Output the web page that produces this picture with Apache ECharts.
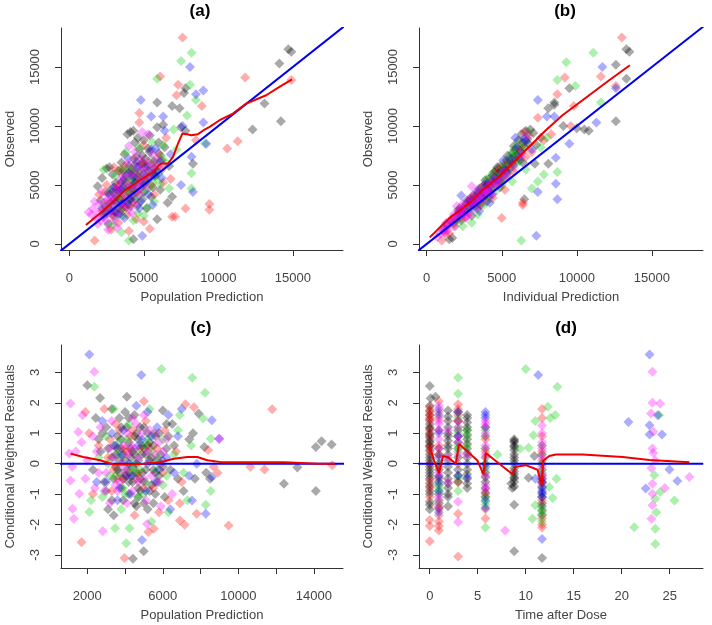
<!DOCTYPE html>
<html>
<head>
<meta charset="utf-8">
<script src="https://cdn.jsdelivr.net/npm/echarts@6/dist/echarts.min.js"></script>
<style>
  html, body { margin: 0; padding: 0; background: #fff; }
  #chart { width: 712px; height: 625px; }
</style>
</head>
<body>
<div id="chart"></div>
<script>
// (a) observed vs population prediction, one array per colour
var obsPredBlack = [[1900,4900],[2200,5600],[2500,6400],[2700,6500],[2900,5900],[3100,5200],[3300,6200],[3500,6900],[3700,7600],[3900,9300],[4100,9500],[4300,9600],[4400,8600],[4700,8000],[5000,8800],[5400,9200],[5900,9900],[6300,10100],[6900,11700],[7400,11500],[5900,12000],[7800,13200],[7700,12800],[6400,8200],[6200,7100],[5700,6400],[5300,5600],[4900,4900],[4500,4400],[4100,3800],[3800,3100],[3400,2600],[3000,2300],[2600,1700],[2300,2500],[2800,3500],[3500,4600],[4200,5400],[4700,6200],[5100,7200],[5600,4800],[6600,3500],[5900,2100],[4300,400],[6900,4000],[8300,6800],[7500,9900],[7800,9600],[6700,6600],[3200,4000],[4000,4500],[4600,3300],[5200,3000],[12300,9700],[13100,11900],[14200,10400],[14100,15300],[14700,16500],[14900,16300],
    [2400,3200],[2600,4300],[2800,2800],[3000,3800],[3200,4600],[3300,3100],[3500,5200],[3600,3500],[3700,4100],[3800,5800],[4000,6600],[4100,3200],[4200,4700],[4300,6100],[4400,5200],[4500,7400],[4600,5700],[4800,6800],[4900,3800],[5000,4400],[5100,6500],[5200,5300],[5400,7800],[5500,4000],[5700,7000],[5800,5800],[6000,7700],[6100,4600],[3100,2700],[2100,3700],
    [3400,3800],[3900,4800],[4400,6700],[4800,5300],[5300,6200],[3600,6200],[4200,4100],[2900,4400],
    [3300,4400],[3700,5500],[4100,6200],[4500,5600],[4900,7500],[5300,8100],[5000,6800],[4400,3800],[3900,3400],[3500,2900],[2700,3000],[3000,4800],[5600,6000],[6000,8600],[4600,9000]];
var obsPredRed = [[7600,17500],[6100,14200],[7300,13500],[7200,12600],[8900,11700],[11800,14100],[4700,11100],[4700,10300],[10600,8100],[11300,8700],[14900,13900],[9400,2900],[9400,3400],[7800,3000],[6900,2300],[7100,2300],[1700,300],[2800,1200],[3300,1800],[4000,1100],[5400,1300],[5000,1900],[3000,6500],[2500,5000],[3500,4000],[4200,3500],[4800,5800],[5500,6800],[6100,7500],[6500,9000],[5000,8400],[3800,5200],[2200,2800],[2900,2500],[6800,5500],[5700,4200],[4500,2100],[8500,8800],[2000,4200],[3400,6200],[4300,7200],[3900,2500],[6300,5200],
    [2600,3500],[3100,3700],[3600,3100],[3900,4400],[4200,6000],[4600,4400],[4900,6900],[5200,5700],[5500,5000],[5900,6500],[3300,5000],[2400,4400],[4400,4800],[6200,6300],[3700,6600]];
var obsPredGreen = [[8200,16200],[7500,15500],[5900,14000],[8100,13500],[8500,12200],[7900,10900],[8200,6000],[8200,4700],[4000,300],[3500,1000],[2900,1600],[4600,2600],[5000,2400],[5700,3600],[2300,6300],[3100,5800],[3800,7800],[4700,8200],[5500,7200],[4300,4300],[4900,5400],[6000,6000],[6700,4700],[3200,3200],[2600,2900],[5200,3100],[6300,8400],[7000,9700],[9100,8500],[4200,5700],[3600,2400],[5400,4800],[2700,4400],[3900,6400],[4500,5000],[5800,5600],[6500,6900],[3300,3900],[7200,8000],
    [2600,3400],[3000,4300],[3400,2900],[3700,5000],[4000,3600],[4100,5300],[4400,6300],[4600,4000],[4800,6000],[5100,4500],[5300,6000],[5600,5200],[5900,6900],[6200,7400],[3500,6300],[2400,2400],[3800,4500],[4300,2000],[5600,8600],[6100,5100]];
var obsPredBlue = [[8100,15000],[9000,13000],[8500,12700],[4800,12200],[5500,10800],[6300,10800],[9000,10300],[7600,10000],[9200,8500],[8200,7400],[7500,5000],[8300,4400],[4900,700],[2700,4200],[3100,3500],[3400,4600],[4000,6000],[4500,7000],[5300,6600],[5800,8100],[6400,9600],[4100,3800],[5000,5100],[6200,5600],[3700,2200],[2200,3000],[5600,3300],[6800,7600],[3000,2800],[4300,5000],[5900,6200],[4800,3600],[3600,5400],
    [2900,4700],[3300,2500],[3600,4800],[3900,3600],[4300,5700],[4600,6500],[5000,5900],[5300,4200],[5700,5800],[6100,7000],[4000,7200],[3500,3400],[4700,3000],[5500,8000],[2500,2600]];
var obsPredMagenta = [[1700,3600],[1300,2700],[1500,2500],[2000,2700],[2300,2300],[1900,1700],[2600,1200],[3200,1400],[2400,3600],[2800,4100],[3100,4600],[3400,3300],[3800,3900],[4100,4900],[4500,5900],[4800,7200],[5100,6200],[5400,5600],[4600,4700],[4000,8300],[5300,9300],[4900,9500],[3600,5800],[2900,3000],[2000,3400],[3000,2000],[4400,3400],[5700,6700],[6300,6600],[4200,2600],[1800,2200],[2500,2000],[3300,4800],[3900,6800],[4700,4200],[5000,5600],[5600,7600],
    [2200,4400],[2500,3100],[2700,2600],[2900,3600],[3100,4100],[3300,2700],[3500,4400],[3700,3300],[3900,5000],[4100,5800],[4300,4200],[4500,6500],[4700,5300],[4900,6400],[5200,4800],[5300,7000],[5500,6200],[5900,7200],[3400,5400],[2600,3800],[1600,3000],[2100,2000],[4000,3000],[4400,7800],[4800,4900]];
var obsPredSmooth = [[1116,1607],[2053,2594],[2946,3581],[3727,4568],[4509,5189],[5290,5837],[5669,6119],[6026,6683],[6183,6824],[6629,6824],[6964,7388],[7299,8516],[7589,9362],[7901,9306],[8191,9221],[8638,9306],[9017,9644],[9419,9926],[10089,10490],[10981,11054],[11874,11900],[13213,12605],[14106,13310],[14954,13959]];

// (b) observed vs individual prediction
var obsIpredBlack = [[1500,400],[1700,500],[1200,1300],[1600,1900],[2000,2400],[2300,2000],[2500,3100],[2700,2800],[2900,3800],[3100,3300],[3300,4100],[3500,3600],[3700,4800],[3900,4200],[4100,5200],[4300,4700],[4500,6100],[4700,5400],[4900,6600],[5100,5800],[5300,7100],[5500,6300],[5700,7700],[5900,8000],[6100,8800],[6300,9300],[6600,9600],[6900,9700],[7100,9400],[7300,8400],[7600,9000],[6400,6900],[7200,6800],[6500,3800],[8100,6800],[8100,11500],[8500,12000],[8500,11800],[9500,13200],[9100,10000],[10000,9800],[10500,9700],[10800,9600],[12600,10400],[12600,15200],[13300,16500],[13500,16300],[13300,14000],[4000,3600],[3000,2400],[5800,6700],[2200,3000],[4400,5300],[6800,8500],
    [1300,1700],[1800,1800],[2100,2900],[2400,2600],[2600,3400],[2800,3200],[3000,3700],[3200,3800],[3400,4300],[3600,4200],[3800,4600],[4000,5000],[4200,4900],[4400,5800],[4600,5500],[4800,6000],[5000,6200],[5200,6500],[5400,6700],[5600,7000],[5800,7400],[6000,7500],[6200,7900],[2000,2100],[3300,3500],[3900,5400],[4700,6500],[5300,6000],[6400,8600],[6700,8900],
    [2300,2700],[2700,3700],[3100,4100],[3500,4700],[3800,3900],[4200,5600],[4600,6200],[5000,5500],[5400,7500],[5800,8300],[6200,7100],[6500,8200],[4900,4800],[3600,3300],[2900,3300]];
var obsIpredRed = [[13000,17500],[9200,14100],[11600,14200],[12600,13400],[8700,12700],[9800,11700],[7400,10700],[9600,10000],[6400,3300],[6400,3500],[5000,2200],[1000,300],[1500,900],[1900,1500],[2600,2300],[3000,3900],[3400,3000],[3800,5000],[4200,4400],[4600,5900],[5000,5200],[5400,7000],[5800,6100],[6200,8000],[6600,7400],[6800,9200],[7000,7800],[2200,2600],[3600,4400],[4800,6300],[5200,4600],[2800,3300],[8300,9300],[7800,8800],[4400,3900],
    [1200,900],[1700,1900],[2300,2200],[2700,3400],[3100,3600],[3500,3400],[3900,4500],[4300,5100],[4700,5200],[5100,6600],[5500,6500],[5900,7200],[6300,8300],[6500,9500],[4100,4000]];
var obsIpredGreen = [[11100,16200],[9300,15400],[8700,13900],[9900,13400],[11600,12000],[8000,9000],[7800,5900],[7000,4700],[7400,5300],[8700,6100],[6300,300],[1800,1700],[2400,1500],[3000,1800],[3400,2500],[3800,3300],[4200,3900],[4600,4500],[5000,5000],[5400,6000],[5800,8000],[6100,8500],[6400,8300],[5600,7500],[4800,5800],[4400,6000],[3200,3700],[2700,3300],[5200,6700],[6000,7100],[6600,6300],[7600,8200],[4000,5500],[3600,4600],[6800,9500],[5700,5300],
    [2000,2000],[2600,2900],[2900,3000],[3300,3300],[3500,4200],[3700,4000],[3900,4700],[4100,4300],[4300,5400],[4500,4800],[4700,5600],[4900,5300],[5100,6400],[5300,5600],[5500,7200],[5700,6600],[5900,7600],[6200,7000],[4400,5000],[3100,3100]];
var obsIpredBlue = [[11700,15000],[12600,13200],[7400,12200],[8000,10800],[8500,10800],[11300,10300],[9500,8500],[8600,7300],[8600,5100],[7400,4400],[8700,3800],[7300,700],[2300,4100],[2800,3600],[3200,3200],[3600,4000],[4100,4600],[4500,5200],[4900,5900],[5300,6200],[5700,6800],[6100,7300],[6500,8900],[7000,8000],[5100,7100],[4200,3500],[3500,2800],[5900,9000],[3900,5100],
    [2500,2900],[2900,3500],[3300,3900],[3700,4400],[4100,5000],[4500,5600],[4800,5400],[5200,6300],[5600,7200],[6000,8200],[6300,7700],[6600,8700],[3400,4500],[2100,2700],[4300,4200]];
var obsIpredMagenta = [[700,600],[900,900],[1100,1100],[1300,1500],[1500,1700],[1700,2200],[1900,2000],[2100,2500],[2300,2900],[2500,2600],[2700,3000],[2900,2700],[3100,3500],[3300,3200],[3500,3800],[3700,3600],[2000,3200],[3200,4300],[3900,4600],[4300,5000],[4700,5100],[5000,5600],[5400,5700],[4100,4400],[4600,4900],[2600,2200],[1400,1200],[3000,4900],[3800,4300],[5800,6500],[6300,7400],[6700,9300],[4400,4200],[2400,3400],[1800,1500],
    [1000,1300],[1200,1000],[1600,2000],[1800,2500],[2000,2300],[2200,2800],[2400,2500],[2500,3300],[2800,3500],[3000,3300],[3200,3700],[3400,4000],[3600,3900],[3700,4500],[4000,4300],[4200,5200],[4500,5500],[4800,5400],[5100,6100],[5300,5900],[2900,3900],[1300,1800],[2700,2400],[3500,4600],[4100,4800]];
var obsIpredSmooth = [[200,564],[1489,2171],[2822,3440],[3711,4568],[4822,5696],[5711,6824],[6377,7670],[7266,8798],[7933,9644],[9044,10913],[9933,11759],[10822,12605],[12154,13874],[13532,15143]];

// (c) CWRES vs population prediction
var cwresPredBlack = [[2000,2.58],[2676,2.16],[4098,2.2],[2450,1.5],[3000,1.2],[3300,1.8],[3600,0.9],[3800,0.5],[4000,1.7],[4300,0.2],[4500,1.6],[4700,0.8],[4900,0.3],[5100,-0.2],[5300,0.1],[3500,-0.1],[3700,-0.3],[4200,-0.6],[4600,-1.4],[4800,-0.9],[5000,-1.3],[5200,-1.5],[5600,-1.0],[5800,-0.4],[6000,1.75],[6200,0.5],[6500,1.3],[6800,-0.5],[7100,-0.9],[7400,0.8],[7600,1.0],[7700,-0.5],[7900,1.65],[8200,0.55],[8300,-0.3],[8500,-0.5],[3100,-1.5],[3400,-1.7],[2700,0.4],[2300,-0.2],[2900,-0.6],[4418,-3.13],[4987,-2.88],[12419,-0.66],[14109,-0.9],[14109,0.55],[14410,0.74],[14944,0.63],[13130,-0.13],[4400,-0.1],[5500,0.6],[6400,-0.2],[3900,-1.2],
    [3400,0.6],[3600,-0.2],[3800,0.8],[3900,-0.5],[4000,0.1],[4100,1.2],[4200,-1.0],[4300,0.5],[4400,-0.6],[4500,0.9],[4600,0.0],[4700,-0.8],[4800,1.2],[4900,-0.3],[5000,0.5],[5200,1.0],[5300,-0.9],[5400,0.2],[5600,0.9],[5700,-0.6],[5900,0.3],[6100,-1.1],[6300,0.9],[3100,0.5],[2800,1.0],[3300,-1.2],[4500,-1.3],[5500,-1.3],[6600,0.6],[3700,1.5],
    [3500,0.3],[3700,0.1],[3900,0.3],[4100,-0.2],[4300,-0.4],[4500,0.3],[4700,0.1],[4900,0.6],[5100,0.3],[5300,0.7],[5500,-0.2],[5700,0.1],[4200,0.7],[4600,-0.3],[3800,-0.8],[5000,-0.6],[3300,0.2],[5800,1.0],[2600,0.8],[3000,-0.9],
    [3600,0.5],[4000,-0.4],[4400,0.4],[4800,-0.5],[5200,0.6],[5600,-0.3],[3400,-0.5],[3800,1.2],[4600,1.0],[5000,1.2],[5400,-0.7],[4200,1.5],[4700,-1.1],[6000,-0.1],[6200,1.3]];
var cwresPredRed = [[11797,1.79],[10641,-0.11],[11388,-0.19],[14979,-0.05],[9485,-2.03],[7796,-1.65],[7156,-2.01],[6907,-1.87],[3973,-3.1],[1698,-2.58],[5236,-2.25],[5520,-2.14],[5000,2.05],[7200,1.95],[7650,1.85],[2900,1.8],[1900,1.7],[2600,0.6],[3100,0.2],[3500,1.3],[3900,-0.5],[4300,0.9],[4700,-0.3],[5100,1.4],[5500,-0.8],[5900,0.0],[6300,-1.2],[6700,0.4],[7000,-0.6],[2300,-1.0],[3300,-0.9],[4500,-1.7],[5800,-1.6],[8700,-0.1],[8900,-0.3],[3700,1.1],[4100,0.4],[6100,1.1],[2100,1.0],[8400,0.45],[6900,-1.3],
    [3200,0.8],[3600,-0.5],[4000,0.5],[4200,-0.3],[4400,1.1],[4800,0.5],[5000,-0.8],[5300,0.5],[5700,0.5],[6000,-0.3],[3400,-0.2],[4600,-0.5]];
var cwresPredGreen = [[2373,2.53],[5929,3.11],[7565,2.82],[8240,2.33],[4062,-2.62],[2107,-1.59],[3476,-2.12],[4240,-2.12],[8276,-1.35],[8543,0.82],[8134,1.48],[8540,-0.9],[3400,1.8],[2800,-1.1],[3000,0.9],[3600,0.3],[3900,-0.8],[4200,1.3],[4500,-0.3],[4700,-1.1],[5000,0.6],[5300,1.8],[5400,-1.9],[5700,0.2],[6000,-0.7],[6300,-1.6],[6600,0.3],[6800,1.1],[7100,-0.3],[7300,-1.2],[7500,0.6],[2600,0.2],[3200,-0.4],[4400,0.0],[5500,1.0],[5100,-0.6],[2200,-1.2],[6900,1.6],
    [3100,0.0],[3500,-0.4],[3700,0.7],[4000,-1.0],[4300,-0.2],[4600,0.4],[4800,-0.2],[5000,-1.0],[5200,0.8],[5400,0.4],[5700,-0.2],[6000,0.8],[6200,-0.4],[4100,0.8],[3800,-1.5]];
var cwresPredBlue = [[2107,3.59],[4862,2.91],[8596,-0.44],[8276,-1.65],[7547,-1.21],[8596,1.43],[4898,-2.51],[6300,1.6],[5200,1.7],[2800,1.4],[3300,1.0],[3800,0.3],[4100,-0.4],[4600,1.9],[4900,0.8],[5200,0.0],[5600,-0.6],[6000,0.1],[6400,-1.5],[6800,0.9],[7000,1.8],[7400,-0.4],[7800,0.0],[2500,-0.6],[3000,-0.6],[3600,-1.2],[4300,-1.0],[5700,1.2],[6600,-0.3],[8987,0.82],
    [3500,0.6],[3900,1.1],[4400,-0.4],[4700,0.6],[5100,-0.9],[5400,0.9],[5800,-0.2],[6200,0.2],[4200,0.0],[3700,-0.8]];
var cwresPredMagenta = [[2373,3.02],[1111,1.98],[1040,0.33],[1520,1.04],[1751,1.59],[1573,-0.99],[1111,-0.55],[1218,-1.48],[1289,-1.81],[2818,-2.22],[5165,-1.98],[1200,-0.1],[1700,0.7],[2000,0.1],[2300,0.9],[2600,-0.3],[2900,-0.9],[3200,0.5],[3500,-0.7],[3800,0.0],[4100,1.0],[4400,-0.9],[4700,0.2],[5000,-0.5],[5300,1.1],[5600,0.3],[5900,-1.4],[6200,0.8],[6500,-1.0],[3300,1.4],[4600,1.3],[5100,-1.2],[1900,-0.5],[2500,0.4],[3700,-0.6],[4300,0.6],[5800,0.7],[1400,0.4],[8987,0.82],
    [2700,1.2],[3000,-0.3],[3400,0.2],[3600,-0.9],[3900,0.6],[4000,-0.2],[4200,0.3],[4500,0.5],[4700,-0.6],[4900,1.0],[5200,0.4],[5400,-0.4],[5600,1.0],[5800,-0.6],[6000,0.4],[4100,-1.3],[3200,-1.3],[2400,-0.8],[5000,1.6],[4400,1.5]];
var cwresPredSmooth = [[1111,0.33],[1787,0.22],[2676,0.11],[3387,-0.03],[4098,-0.03],[4987,0.0],[5876,0.05],[6587,0.16],[7298,0.22],[7832,0.22],[8365,0.11],[9076,0.05],[9788,0.05],[12454,0.05],[14232,0.0],[15121,0.0]];

// (d) CWRES vs time after dose
var cwresTimeBlack = [[0,2.55],[0.1,2.15],[0,1.45],[0,1.3],[0,1.15],[0,1.0],[0,0.85],[0,0.7],[0,0.55],[0,0.3],[0,0.1],[0,-0.2],[0,-0.4],[0,-0.65],[0,-1.25],[0,-1.5],[0.6,2.2],[0.95,1.1],[0.95,0.3],[0.95,-0.4],[0.95,-1.45],[0.95,-1.0],[1.9,1.75],[1.9,1.55],[1.9,1.2],[1.9,1.0],[1.9,0.75],[1.9,0.5],[1.9,0.3],[1.9,-0.1],[1.9,-0.5],[1.9,-0.8],[1.9,-1.1],[1.9,-1.4],[2.95,1.7],[2.95,1.4],[2.95,0.9],[2.95,0.5],[2.95,-0.2],[2.95,-0.6],[3.9,1.6],[3.9,1.35],[3.9,1.1],[3.9,0.8],[3.9,0.5],[3.9,0.2],[3.9,-0.2],[3.9,-0.5],[3.9,-0.8],[5.8,0.9],[5.8,0.2],[5.8,-0.3],[5.8,-0.6],[5.8,-0.95],[8.8,0.8],[8.8,0.7],[8.8,0.6],[8.8,0.45],[8.8,0.3],[8.8,0.1],[8.8,-0.15],[8.8,-0.35],[8.8,-0.5],[8.8,-0.6],[8.8,-0.75],[8.5,-0.65],[8.6,-0.8],[8.8,-1.35],[8.8,-2.88],[10.3,-0.46],[10.9,0.25],[11.7,0.6],[11.7,0.3],[11.7,-0.2],[11.7,-0.8],[11.7,-1.0],[11.7,-1.3],[11.7,-1.55],[11.7,-1.7],[11.7,-3.1],
    [0,1.9],[0,1.75],[0,1.6],[0,1.2],[0,0.95],[0,0.75],[0,0.6],[0,0.45],[0,0.2],[0,0.0],[0,-0.1],[0,-0.3],[0,-0.5],[0,-0.75],[0,-0.9],[0,-1.0],[0,-1.35],
    [0.95,0.5],[0.95,0.0],[0.95,-0.2],[0.95,-0.7],[1.9,1.4],[1.9,0.9],[1.9,0.6],[1.9,0.1],[1.9,-0.3],[1.9,-0.65],[1.9,-1.0],
    [2.95,1.1],[2.95,0.7],[2.95,0.2],[2.95,-0.4],[3.9,1.5],[3.9,1.2],[3.9,0.95],[3.9,0.65],[3.9,0.35],[3.9,0.0],[3.9,-0.35],[3.9,-0.65],
    [5.8,0.5],[5.8,0.0],[5.8,-0.45],[5.8,-0.8],[5.8,-1.1],[8.8,0.75],[8.8,0.55],[8.8,0.2],[8.8,0.0],[8.8,-0.25],[8.8,-0.45],
    [11.7,0.0],[11.7,-0.4],[11.7,-0.6],[11.7,-1.1],[11.7,-1.4]];
var cwresTimeRed = [[0,1.85],[0,1.6],[0,1.4],[0,0.4],[0,0.0],[0,-0.8],[0,-0.55],[0,-1.85],[0,-2.05],[0,-2.55],[0.95,2.05],[0.95,1.7],[0.95,0.6],[0.95,-0.1],[0.95,-1.7],[0.95,-1.9],[0.95,-2.05],[0.95,-2.2],[2.95,1.95],[2.95,1.8],[2.95,1.6],[2.95,0.0],[2.95,-1.65],[2.95,-3.05],[5.8,1.2],[5.8,0.4],[5.8,-1.8],[11.7,1.8],[11.7,0.9],[11.7,0.4],[11.7,-0.5],[11.7,-2.0],[11.7,-2.1],
    [0,1.7],[0,1.5],[0,1.1],[0,0.9],[0,0.6],[0,-1.1],[0.95,1.5],[0.95,0.3],[0.95,-0.5],[0.95,-1.3],[0.95,-1.5],[2.95,1.4],[2.95,-0.6],
    [5.8,0.8],[5.8,-1.0],[5.8,-1.5],[11.7,1.5],[11.7,0.1],[11.7,-0.65],[11.7,-1.2],[11.7,-1.8]];
var cwresTimeGreen = [[2.95,2.82],[2.95,2.3],[2.95,1.5],[2.95,1.0],[2.95,0.4],[2.95,-0.9],[0.95,-0.8],[0.95,-1.2],[0.95,-1.3],[3.9,0.9],[3.9,0.6],[5.8,-1.25],[5.8,-1.35],[5.8,-2.1],[5.8,0.0],[7.06,0.3],[9.4,0.49],[10.3,0.52],[10.0,3.11],[11.0,1.4],[10.8,0.93],[11.0,-1.37],[10.7,-1.81],[12.3,1.87],[12.55,1.5],[13.07,1.6],[13.3,2.53],[12.45,-0.77],[12.8,-1.13],[13.2,-0.5],[11.7,-1.5],[11.7,-1.9],[11.7,0.0],[21.3,-2.09],[23.4,-0.38],[23.5,-1.15],[23.6,-1.6],[23.5,-2.14],[23.5,-2.64],[24.0,-0.93],[25.5,-1.21],[23.9,1.6],
    [0.95,0.0],[0.95,-0.6],[0.95,-0.9],[2.95,1.2],[2.95,0.6],[2.95,-0.5],[3.9,1.1],[5.8,1.1],[5.8,-0.2],[5.8,-1.1],[11.7,-0.3],[11.7,-1.65]];
var cwresTimeBlue = [[0.95,-0.45],[0.95,-1.6],[0.95,1.0],[0.95,1.6],[2.95,-0.4],[3.9,-0.45],[5.8,1.7],[5.8,1.5],[5.8,-1.45],[5.8,-0.1],[11.3,2.91],[11.7,-2.48],[11.7,-0.9],[11.7,-0.6],[11.7,-0.75],[11.7,-0.95],[11.0,-0.5],[20.7,1.37],[22.5,-0.82],[22.9,3.59],[22.9,1.26],[22.9,0.96],[23.75,1.59],[24.2,0.96],[24.97,-0.19],[25.8,-0.57],
    [0.95,1.8],[0.95,0.2],[0.95,-0.6],[0.95,-0.9],[2.95,0.9],[2.95,1.7],[5.8,1.6],[5.8,1.2],[5.8,-1.2],[11.7,-0.5],[11.7,-1.1]];
var cwresTimeMagenta = [[0.95,1.9],[0.95,1.3],[0.95,0.8],[0.95,-1.1],[0.95,-1.4],[1.9,1.1],[1.9,0.2],[1.9,-0.6],[2.95,1.2],[2.95,0.7],[2.95,-1.25],[2.95,-1.92],[3.9,0.3],[5.8,1.3],[5.8,0.6],[5.8,-0.7],[5.8,-0.85],[7.86,-2.2],[11.7,1.25],[11.7,1.0],[11.7,0.7],[11.7,-0.35],[23.2,3.02],[23.2,2.0],[23.05,1.65],[23.2,0.5],[23.3,0.35],[23.2,-0.66],[23.2,-0.99],[23.2,-1.37],[23.1,-1.81],[24.0,1.98],[24.5,-0.8],[27.05,-0.44],[23.3,1.05],[23.1,-0.15],[23.5,0.1],
    [0.95,1.4],[0.95,1.1],[0.95,0.5],[0.95,-0.3],[0.95,-1.2],[2.95,0.9],[2.95,1.4],[2.95,0.3],[5.8,1.4],[5.8,1.0],[5.8,0.3],[5.8,-0.4],[11.7,0.5],[11.7,0.2],[11.7,-0.1]];
var cwresTimeSmooth = [[0,0.55],[0.45,0.1],[0.97,-0.3],[1.39,0.25],[1.95,0.2],[2.71,0.0],[3.06,0.65],[4.10,0.35],[4.97,0.1],[5.60,-0.35],[5.84,0.35],[8.62,-0.35],[8.97,-0.1],[10.01,-0.05],[11.23,-0.2],[11.68,-0.7],[11.82,0.1],[12.45,0.25],[13.14,0.3],[15.92,0.3],[20.10,0.22],[22.88,0.12],[27.05,0.05]];

// reference lines
var identityLine = [[-600,-600],[18500,18500]];
var zeroLinePred = [[500,0],[15600,0]];
var zeroLineTime = [[-1.2,0],[28.5,0]];

// ticks
var concTicks = [0,5000,10000,15000];
var predTicks = [2000,4000,6000,8000,10000,12000,14000];
var predLabels = [2000,6000,10000,14000];
var cwresTicks = [-3,-2,-1,0,1,2,3];
var timeTicks = [0,5,10,15,20,25];

var panelTitles = ['a','b','c','d'];
var xNames = ['Population Prediction','Individual Prediction','Population Prediction','Time after Dose'];
var yNames = ['Observed','Observed','Conditional Weighted Residuals','Conditional Weighted Residuals'];

var colBlack = 'rgba(0,0,0,0.42)';
var colRed = 'rgba(255,0,0,0.4)';
var colGreen = 'rgba(0,205,0,0.4)';
var colBlue = 'rgba(0,0,255,0.4)';
var colMagenta = 'rgba(255,0,255,0.4)';

var textCol = '#444';
var font = 'Liberation Sans, Arial, sans-serif';

var myChart = echarts.init(document.getElementById('chart'));

var grids = [
    {left: 61, top: 28, width: 282, height: 222},
    {left: 419, top: 28, width: 284, height: 222},
    {left: 61, top: 345, width: 282, height: 223},
    {left: 419, top: 345, width: 284, height: 223}
];
var titleX = [195, 560, 196, 561];
var titleY = [-2, -2, 315, 315];

function plain(v) { return String(v); }

function xAxisFor(i, min, max, ticks, labels) {
    return {
        type: 'value', gridIndex: i, min: min, max: max,
        name: xNames[i], nameLocation: 'middle', nameGap: 41,
        nameTextStyle: {color: textCol, fontSize: 13, fontFamily: font},
        axisLine: {show: true, onZero: false, lineStyle: {color: '#333', width: 1}},
        axisTick: {show: true, length: 6, customValues: ticks, lineStyle: {color: '#333'}},
        axisLabel: {show: true, customValues: labels, formatter: plain, margin: 22, color: textCol, fontSize: 13, fontFamily: font},
        splitLine: {show: false}
    };
}
function yAxisFor(i, min, max, ticks) {
    return {
        type: 'value', gridIndex: i, min: min, max: max,
        name: yNames[i], nameLocation: 'middle', nameGap: 44, nameRotate: 90,
        nameTextStyle: {color: textCol, fontSize: 13, fontFamily: font},
        axisLine: {show: true, onZero: false, lineStyle: {color: '#333', width: 1}},
        axisTick: {show: true, length: 6, customValues: ticks, lineStyle: {color: '#333'}},
        axisLabel: {show: true, customValues: ticks, formatter: plain, rotate: 90, margin: 19, color: textCol, fontSize: 13, fontFamily: font},
        splitLine: {show: false}
    };
}

function pts(data, color, i) {
    return {
        type: 'scatter', xAxisIndex: i, yAxisIndex: i, data: data,
        symbol: 'diamond', symbolSize: 10, silent: true,
        itemStyle: {color: color}
    };
}
function line(data, color, i, z) {
    return {
        type: 'line', xAxisIndex: i, yAxisIndex: i, data: data,
        showSymbol: false, symbol: 'none', silent: true, clip: true, z: z,
        lineStyle: {color: color, width: 2}
    };
}

var option = {
    animation: false,
    backgroundColor: '#fff',
    title: panelTitles.map(function (t, i) {
        return {
            text: '{p|(}{l|' + t + '}{p|)}',
            left: titleX[i], top: titleY[i], textAlign: 'center',
            textStyle: {
                rich: {
                    p: {fontSize: 17, fontFamily: font, color: '#000'},
                    l: {fontSize: 17, fontFamily: font, fontWeight: 'bold', color: '#000'}
                }
            }
        };
    }),
    grid: grids,
    xAxis: [
        xAxisFor(0, -557, 18370, concTicks, concTicks),
        xAxisFor(1, -514, 18405, concTicks, concTicks),
        xAxisFor(2, 607, 15547, predTicks, predLabels),
        xAxisFor(3, -1.12, 28.47, timeTicks, timeTicks)
    ],
    yAxis: [
        yAxisFor(0, -508, 18305, concTicks),
        yAxisFor(1, -508, 18305, concTicks),
        yAxisFor(2, -3.43, 3.90, cwresTicks),
        yAxisFor(3, -3.43, 3.90, cwresTicks)
    ],
    series: [
        pts(obsPredBlack, colBlack, 0), pts(obsPredRed, colRed, 0), pts(obsPredGreen, colGreen, 0),
        pts(obsPredBlue, colBlue, 0), pts(obsPredMagenta, colMagenta, 0),
        line(identityLine, '#0000ee', 0, 5), line(obsPredSmooth, '#ee0000', 0, 6),

        pts(obsIpredBlack, colBlack, 1), pts(obsIpredRed, colRed, 1), pts(obsIpredGreen, colGreen, 1),
        pts(obsIpredBlue, colBlue, 1), pts(obsIpredMagenta, colMagenta, 1),
        line(identityLine, '#0000ee', 1, 5), line(obsIpredSmooth, '#ee0000', 1, 6),

        pts(cwresPredBlack, colBlack, 2), pts(cwresPredRed, colRed, 2), pts(cwresPredGreen, colGreen, 2),
        pts(cwresPredBlue, colBlue, 2), pts(cwresPredMagenta, colMagenta, 2),
        line(zeroLinePred, '#0000ee', 2, 5), line(cwresPredSmooth, '#ee0000', 2, 6),

        pts(cwresTimeBlack, colBlack, 3), pts(cwresTimeRed, colRed, 3), pts(cwresTimeGreen, colGreen, 3),
        pts(cwresTimeBlue, colBlue, 3), pts(cwresTimeMagenta, colMagenta, 3),
        line(zeroLineTime, '#0000ee', 3, 5), line(cwresTimeSmooth, '#ee0000', 3, 6)
    ]
};

myChart.setOption(option);
</script>
</body>
</html>
